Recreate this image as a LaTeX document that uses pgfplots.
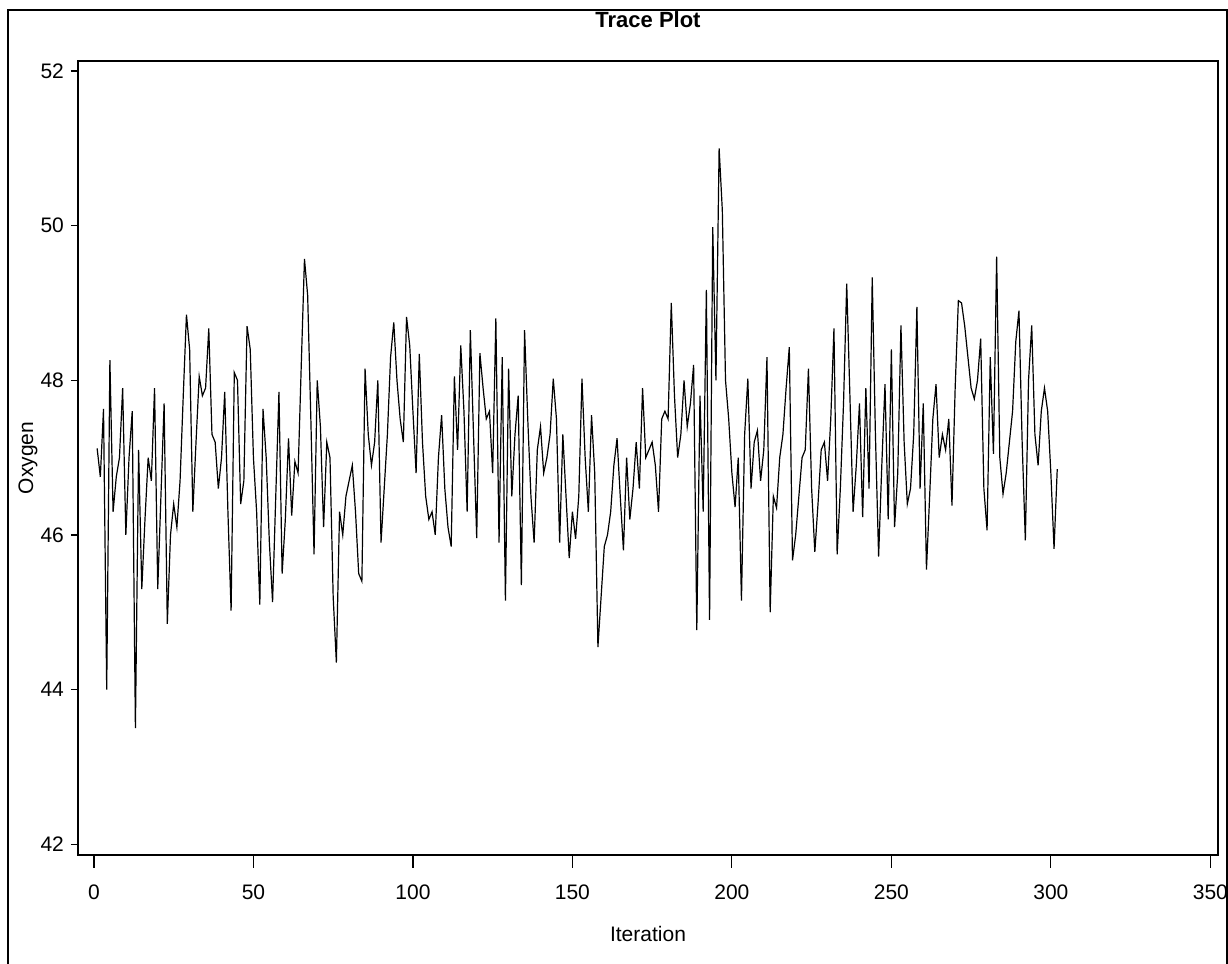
\documentclass[border=0pt]{standalone}
\usepackage{pgfplots}
\pgfplotsset{compat=1.18}
\usepackage{fontspec}
\setmainfont{Liberation Sans}
\begin{document}
\begin{tikzpicture}[x=0.5pt,y=0.5pt]
\path[use as bounding box] (0,0) rectangle (1228,964);
\draw[line width=0.7pt] (8,-10) -- (8,954) -- (1227,954) -- (1227,-10);
% main axis: frame, x ticks, y tick labels
\begin{axis}[at={(39pt,54.5pt)}, anchor=south west, scale only axis,
  width=570pt, height=397pt,
  xmin=-5, xmax=352.4, ymin=41.86, ymax=52.13,
  xtick={0,50,...,350}, ytick={42,44,...,52},
  xtick pos=lower, ytick pos=left,
  tick align=outside, major tick length=6.5pt,
  y tick style={draw=none},
  axis line style={line width=0.6pt},
  every tick/.style={black, line width=0.6pt},
  tick label style={font=\fontsize{10.5}{12}\selectfont},
  xticklabel style={yshift=-5pt},
  yticklabel style={xshift=3pt},
  /pgf/number format/assume math mode=true]
\addplot[black, line width=0.6pt] coordinates {
(1,47.12)(2,46.75)(3,47.63)(4,44.0)(5,48.26)(6,46.3)(7,46.75)(8,47.0)(9,47.9)(10,46.0)
(11,47.0)(12,47.6)(13,43.5)(14,47.1)(15,45.3)(16,46.2)(17,47.0)(18,46.7)(19,47.9)(20,45.3)
(21,46.5)(22,47.7)(23,44.85)(24,46.0)(25,46.4)(26,46.1)(27,46.7)(28,47.8)(29,48.85)(30,48.4)
(31,46.3)(32,47.2)(33,48.05)(34,47.8)(35,47.9)(36,48.67)(37,47.3)(38,47.2)(39,46.6)(40,47.0)
(41,47.85)(42,46.3)(43,45.02)(44,48.1)(45,48.0)(46,46.4)(47,46.7)(48,48.7)(49,48.4)(50,47.0)
(51,46.3)(52,45.1)(53,47.63)(54,47.0)(55,45.9)(56,45.13)(57,46.5)(58,47.85)(59,45.5)(60,46.2)
(61,47.25)(62,46.25)(63,46.95)(64,46.8)(65,48.2)(66,49.57)(67,49.1)(68,47.5)(69,45.75)(70,48.0)
(71,47.4)(72,46.1)(73,47.2)(74,47.0)(75,45.2)(76,44.35)(77,46.3)(78,46.0)(79,46.5)(80,46.7)
(81,46.9)(82,46.3)(83,45.5)(84,45.4)(85,48.15)(86,47.3)(87,46.9)(88,47.2)(89,48.0)(90,45.9)
(91,46.6)(92,47.3)(93,48.3)(94,48.75)(95,48.0)(96,47.5)(97,47.2)(98,48.82)(99,48.45)(100,47.6)
(101,46.8)(102,48.34)(103,47.2)(104,46.5)(105,46.2)(106,46.3)(107,46.0)(108,47.0)(109,47.55)(110,46.6)
(111,46.1)(112,45.85)(113,48.05)(114,47.1)(115,48.45)(116,47.6)(117,46.3)(118,48.65)(119,47.3)(120,45.96)
(121,48.35)(122,47.9)(123,47.5)(124,47.6)(125,46.8)(126,48.8)(127,45.9)(128,48.3)(129,45.15)(130,48.15)
(131,46.5)(132,47.3)(133,47.8)(134,45.35)(135,48.65)(136,47.5)(137,46.5)(138,45.9)(139,47.1)(140,47.4)
(141,46.8)(142,47.0)(143,47.3)(144,48.02)(145,47.5)(146,45.9)(147,47.3)(148,46.5)(149,45.7)(150,46.3)
(151,45.95)(152,46.5)(153,48.02)(154,47.0)(155,46.3)(156,47.55)(157,46.8)(158,44.55)(159,45.2)(160,45.85)
(161,46.0)(162,46.3)(163,46.9)(164,47.25)(165,46.5)(166,45.8)(167,47.0)(168,46.2)(169,46.6)(170,47.2)
(171,46.6)(172,47.9)(173,47.0)(174,47.1)(175,47.2)(176,46.9)(177,46.3)(178,47.5)(179,47.6)(180,47.5)
(181,49.0)(182,47.8)(183,47.0)(184,47.3)(185,48.0)(186,47.4)(187,47.7)(188,48.2)(189,44.77)(190,47.8)
(191,46.3)(192,49.17)(193,44.9)(194,49.98)(195,48.0)(196,51.0)(197,50.2)(198,48.0)(199,47.5)(200,46.8)
(201,46.36)(202,47.0)(203,45.15)(204,47.3)(205,48.02)(206,46.6)(207,47.2)(208,47.35)(209,46.7)(210,47.1)
(211,48.3)(212,45.0)(213,46.5)(214,46.35)(215,47.0)(216,47.3)(217,47.9)(218,48.43)(219,45.67)(220,46.0)
(221,46.5)(222,47.0)(223,47.1)(224,48.15)(225,46.6)(226,45.78)(227,46.4)(228,47.1)(229,47.2)(230,46.7)
(231,47.5)(232,48.67)(233,45.75)(234,46.6)(235,47.7)(236,49.25)(237,47.8)(238,46.3)(239,46.9)(240,47.7)
(241,46.23)(242,47.9)(243,46.6)(244,49.33)(245,47.3)(246,45.72)(247,46.9)(248,47.95)(249,46.2)(250,48.4)
(251,46.1)(252,46.8)(253,48.71)(254,47.2)(255,46.4)(256,46.6)(257,47.3)(258,48.95)(259,46.6)(260,47.7)
(261,45.55)(262,46.5)(263,47.5)(264,47.95)(265,47.0)(266,47.3)(267,47.1)(268,47.5)(269,46.38)(270,47.9)
(271,49.03)(272,49.0)(273,48.7)(274,48.3)(275,47.9)(276,47.76)(277,48.0)(278,48.54)(279,46.6)(280,46.06)
(281,48.3)(282,47.05)(283,49.6)(284,47.0)(285,46.53)(286,46.8)(287,47.2)(288,47.6)(289,48.5)(290,48.9)
(291,47.2)(292,45.93)(293,48.0)(294,48.71)(295,47.3)(296,46.9)(297,47.6)(298,47.9)(299,47.6)(300,46.8)
(301,45.82)(302,46.85)
};
\end{axis}
% overlay axis: only the short y ticks
\begin{axis}[at={(39pt,54.5pt)}, anchor=south west, scale only axis,
  width=570pt, height=397pt,
  xmin=-5, xmax=352.4, ymin=41.86, ymax=52.13,
  xtick=\empty, ytick={42,44,...,52}, yticklabels={},
  ytick pos=left, tick align=outside, major tick length=3.5pt,
  axis line style={draw=none},
  every tick/.style={black, line width=0.6pt}]
\end{axis}
\node[font=\fontsize{11}{13}\selectfont\bfseries] at (648,944) {Trace Plot};
\node[font=\fontsize{10.5}{12}\selectfont] at (648,30) {Iteration};
\node[font=\fontsize{10.5}{12}\selectfont, rotate=90] at (28,506) {Oxygen};
\end{tikzpicture}
\end{document}
